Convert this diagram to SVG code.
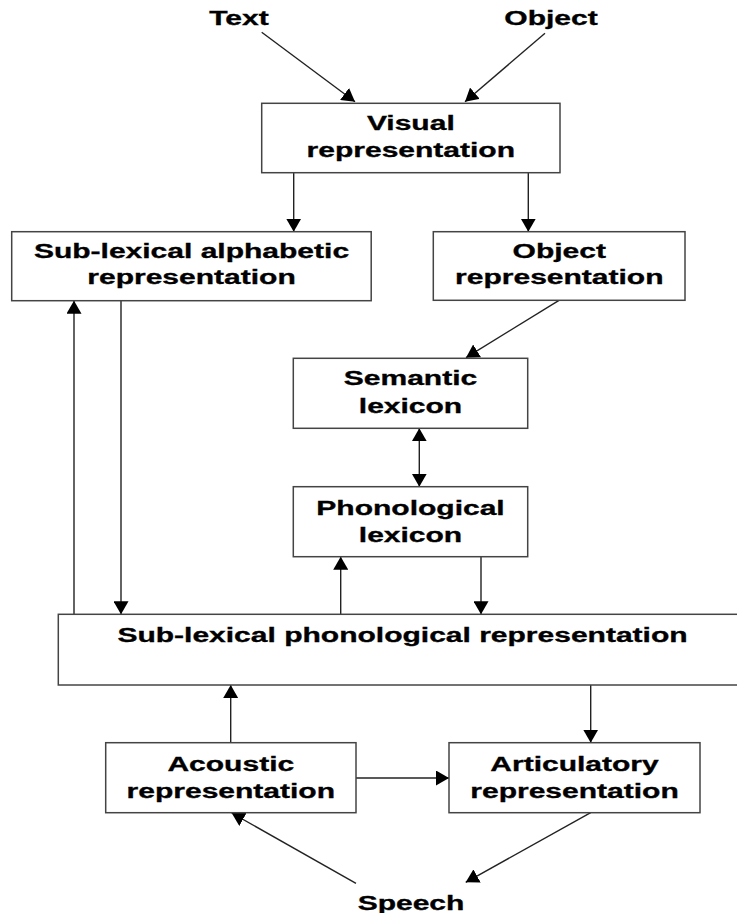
<svg xmlns="http://www.w3.org/2000/svg" width="737" height="913" viewBox="0 0 737 913">
<style>
.box{fill:#fff;stroke:#444;stroke-width:1.5}
.t{font-family:"Liberation Sans",Arial,sans-serif;font-weight:bold;font-size:19.5px;fill:#000;stroke:#000;stroke-width:0.3;text-anchor:middle}
.c{stroke:#222;stroke-width:1.4;fill:none;marker-end:url(#ah)}
</style>
<defs>
<marker id="ah" markerUnits="userSpaceOnUse" markerWidth="13" markerHeight="15" refX="13" refY="7.5" orient="auto-start-reverse" viewBox="0 0 13 15">
<path d="M0,0 L13,7.5 L0,15 z" fill="#000"/>
</marker>
</defs>
<rect width="737" height="913" fill="#fff"/>
<g id="connectors">
<line class="c" x1="261.7" y1="32.3" x2="355" y2="101.7"/>
<line class="c" x1="545" y1="33.3" x2="465" y2="101.7"/>
<line class="c" x1="293.7" y1="172.7" x2="293.7" y2="231.7"/>
<line class="c" x1="528.3" y1="172.7" x2="528.3" y2="231.7"/>
<line class="c" x1="559" y1="300.3" x2="466" y2="357.7"/>
<line class="c" x1="419.3" y1="428.3" x2="419.3" y2="486.7" marker-start="url(#ah)"/>
<line class="c" x1="340.7" y1="614.3" x2="340.7" y2="556.7"/>
<line class="c" x1="481" y1="556.7" x2="481" y2="614.3"/>
<line class="c" x1="74" y1="614.3" x2="74" y2="300.7"/>
<line class="c" x1="121" y1="300.7" x2="121" y2="614.3"/>
<line class="c" x1="230.7" y1="742.7" x2="230.7" y2="685"/>
<line class="c" x1="590.7" y1="685" x2="590.7" y2="742.7"/>
<line class="c" x1="356" y1="778" x2="449" y2="778"/>
<line class="c" x1="356" y1="883.3" x2="231.7" y2="813"/>
<line class="c" x1="590.7" y1="812.7" x2="465.7" y2="882.3"/>
</g>
<g id="text-input">
<text class="t" transform="translate(239,25) scale(1.54,1)">Text</text>
</g>
<g id="object-input">
<text class="t" transform="translate(551,25) scale(1.54,1)">Object</text>
</g>
<g id="visual">
<rect class="box" x="261.7" y="103.3" width="298.3" height="69.4"/>
<text class="t" transform="translate(410.8,130) scale(1.54,1)">Visual</text>
<text class="t" transform="translate(410.8,156.7) scale(1.54,1)">representation</text>
</g>
<g id="sublexical-alphabetic">
<rect class="box" x="11.7" y="231.7" width="359.5" height="69"/>
<text class="t" transform="translate(191.5,258.3) scale(1.54,1)">Sub-lexical alphabetic</text>
<text class="t" transform="translate(191.5,284.3) scale(1.54,1)">representation</text>
</g>
<g id="object-representation">
<rect class="box" x="433.3" y="231.7" width="251.7" height="68.6"/>
<text class="t" transform="translate(559.3,258.3) scale(1.54,1)">Object</text>
<text class="t" transform="translate(559.3,284.3) scale(1.54,1)">representation</text>
</g>
<g id="semantic-lexicon">
<rect class="box" x="293.3" y="358.3" width="234.4" height="70"/>
<text class="t" transform="translate(410.5,385) scale(1.54,1)">Semantic</text>
<text class="t" transform="translate(410.5,413) scale(1.54,1)">lexicon</text>
</g>
<g id="phonological-lexicon">
<rect class="box" x="293.3" y="486.7" width="234.4" height="70"/>
<text class="t" transform="translate(410.5,515) scale(1.54,1)">Phonological</text>
<text class="t" transform="translate(410.5,541.7) scale(1.54,1)">lexicon</text>
</g>
<g id="sublexical-phonological">
<rect class="box" x="58.3" y="614.3" width="700" height="70.7"/>
<text class="t" transform="translate(402.5,642.3) scale(1.54,1)">Sub-lexical phonological representation</text>
</g>
<g id="acoustic">
<rect class="box" x="105.7" y="742.7" width="250.3" height="70"/>
<text class="t" transform="translate(230.8,770.7) scale(1.54,1)">Acoustic</text>
<text class="t" transform="translate(230.8,797.7) scale(1.54,1)">representation</text>
</g>
<g id="articulatory">
<rect class="box" x="449" y="742.7" width="251" height="70"/>
<text class="t" transform="translate(574.5,770.7) scale(1.54,1)">Articulatory</text>
<text class="t" transform="translate(574.5,797.7) scale(1.54,1)">representation</text>
</g>
<g id="speech">
<text class="t" transform="translate(411,910) scale(1.54,1)">Speech</text>
</g>
</svg>
